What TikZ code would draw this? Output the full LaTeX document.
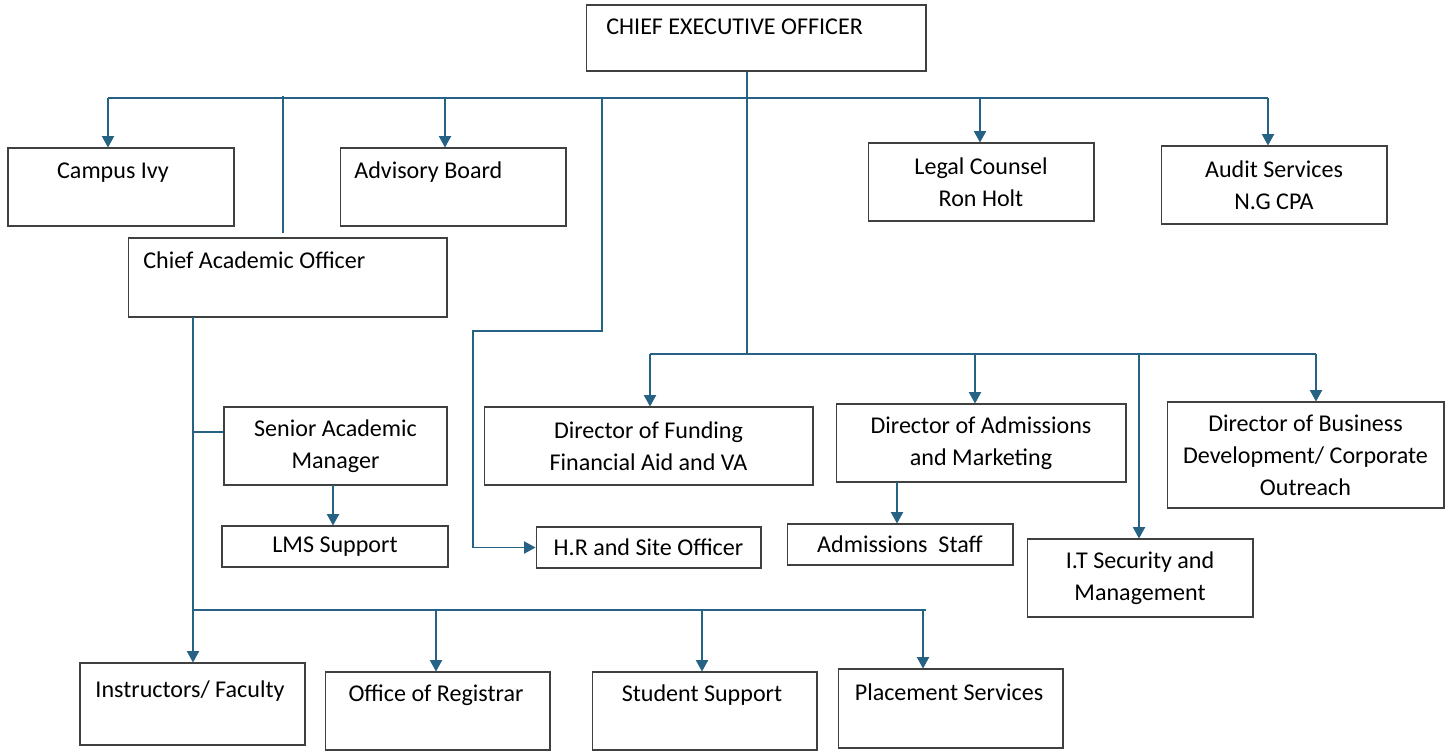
\documentclass[tikz,border=0pt]{standalone}
\usepackage{fontspec}
\setmainfont{Carlito}
\usepackage{xcolor}
\usepackage{tikz}
\usetikzlibrary{arrows.meta, positioning}
\definecolor{linkblue}{RGB}{38,98,132}
\definecolor{boxgray}{RGB}{64,64,64}

\begin{document}
\begin{tikzpicture}[
  x=0.02cm, y=-0.02cm,
  font=\fontsize{13.7}{18.2}\selectfont,
  unit/.style={draw=boxgray, line width=0.6pt, inner sep=0pt, align=center},
  tag/.style={inner sep=0pt, anchor=base},
  link/.style={draw=linkblue, line width=0.6pt},
  feed/.style={link, -{Triangle[length=6.5pt,width=7pt]}},
]
\useasboundingbox (0,0) rectangle (1449,751);

% Top level
\node[unit, minimum width=6.8cm, minimum height=1.32cm] (ceo) at (756,38) {};
\node[tag, anchor=base west] (ceotxt) at (606,34) {CHIEF EXECUTIVE OFFICER};

% Row under the CEO
\node[unit, minimum width=4.52cm, minimum height=1.56cm] (ivy) at (121,187) {};
\node[tag] (ivytxt) at (113,178) {Campus Ivy};
\node[unit, minimum width=4.52cm, minimum height=1.56cm] (adv) at (453,187) {};
\node[tag, anchor=base west] (advtxt) at (354,178) {Advisory Board};
\node[unit, minimum width=4.52cm, minimum height=1.56cm] (legal) at (981,182) {Legal Counsel\\Ron Holt};
\node[unit, minimum width=4.52cm, minimum height=1.56cm] (audit) at (1274,185) {Audit Services\\N.G CPA};

% Academic branch
\node[unit, minimum width=6.38cm, minimum height=1.58cm] (cao) at (287.5,277.5) {};
\node[tag, anchor=base west] (caotxt) at (143,268) {Chief Academic Officer};
\node[unit, minimum width=4.46cm, minimum height=1.56cm] (sam) at (335.5,446) {Senior Academic\\Manager};
\node[unit, minimum width=4.52cm, minimum height=0.82cm] (lms) at (335,546.5) {LMS Support};

% Directors
\node[unit, minimum width=6.58cm, minimum height=1.56cm] (fund) at (648.5,446) {Director of Funding\\Financial Aid and VA};
\node[unit, minimum width=5.8cm, minimum height=1.56cm] (adm) at (981,443) {Director of Admissions\\and Marketing};
\node[unit, minimum width=5.54cm, minimum height=2.12cm] (bd) at (1305.5,455) {Director of Business\\Development/ Corporate\\Outreach};
\node[unit, minimum width=4.52cm, minimum height=1.56cm] (it) at (1140,578) {I.T Security and\\Management};
\node[unit, minimum width=4.52cm, minimum height=0.82cm] (staff) at (900,544.5) {Admissions\ \ Staff};
\node[unit, minimum width=4.5cm, minimum height=0.82cm] (hr) at (648.5,547.5) {H.R and Site Officer};

% Bottom row
\node[unit, minimum width=4.5cm, minimum height=1.64cm] (inst) at (192.5,704) {};
\node[tag] (insttxt) at (190,697) {Instructors/ Faculty};
\node[unit, minimum width=4.5cm, minimum height=1.56cm] (reg) at (437.5,711) {};
\node[tag] (regtxt) at (436,701) {Office of Registrar};
\node[unit, minimum width=4.5cm, minimum height=1.56cm] (stu) at (704.5,711) {};
\node[tag] (stutxt) at (702,701) {Student Support};
\node[unit, minimum width=4.5cm, minimum height=1.58cm] (place) at (950.5,708.5) {};
\node[tag] (placetxt) at (949,700) {Placement Services};

% Bus junctions
\coordinate (tIvy) at (108,98);
\coordinate (tAdv) at (445,98);
\coordinate (tCao) at (283,96);
\coordinate (tHr) at (602,98);
\coordinate (tLegal) at (980,98);
\coordinate (tAudit) at (1268,98);
\coordinate (caoStub) at (283,233);
\coordinate (hrA) at (602,331);
\coordinate (hrB) at (473,331);
\coordinate (midJ) at (747,354);
\coordinate (tFund) at (650,354);
\coordinate (tAdm) at (975,354);
\coordinate (tIt) at (1139,354);
\coordinate (tBd) at (1316,354);
\coordinate (caoJ) at (193,317);
\coordinate (samJ) at (193,432);
\coordinate (lowL) at (193,610);
\coordinate (tReg) at (436,610);
\coordinate (tStu) at (702,610);
\coordinate (tPlace) at (923,610);
\coordinate (lowR) at (926,610);
\coordinate (samFoot) at (333,485);
\coordinate (admFoot) at (897,482);

% Top bus
\draw[link] (tIvy) -- (tAudit);
\draw[feed] (tIvy) -- (tIvy |- ivy.north);
\draw[feed] (tAdv) -- (tAdv |- adv.north);
\draw[feed] (tLegal) -- (tLegal |- legal.north);
\draw[feed] (tAudit) -- (tAudit |- audit.north);
\draw[link] (tCao) -- (caoStub);
\draw[feed] (tHr) -- (hrA) -- (hrB) -- (hrB |- hr.west) -- (hr.west);

% Middle bus
\draw[link] (ceo.south -| midJ) -- (midJ);
\draw[link] (tFund) -- (tBd);
\draw[feed] (tFund) -- (tFund |- fund.north);
\draw[feed] (tAdm) -- (tAdm |- adm.north);
\draw[feed] (tIt) -- (tIt |- it.north);
\draw[feed] (tBd) -- (tBd |- bd.north);
\draw[feed] (admFoot) -- (admFoot |- staff.north);

% Academic line and bottom bus
\draw[feed] (caoJ) -- (caoJ |- inst.north);
\draw[link] (samJ) -- (samJ -| sam.west);
\draw[feed] (samFoot) -- (samFoot |- lms.north);
\draw[link] (lowL) -- (lowR);
\draw[feed] (tReg) -- (tReg |- reg.north);
\draw[feed] (tStu) -- (tStu |- stu.north);
\draw[feed] (tPlace) -- (tPlace |- place.north);
\end{tikzpicture}
\end{document}
